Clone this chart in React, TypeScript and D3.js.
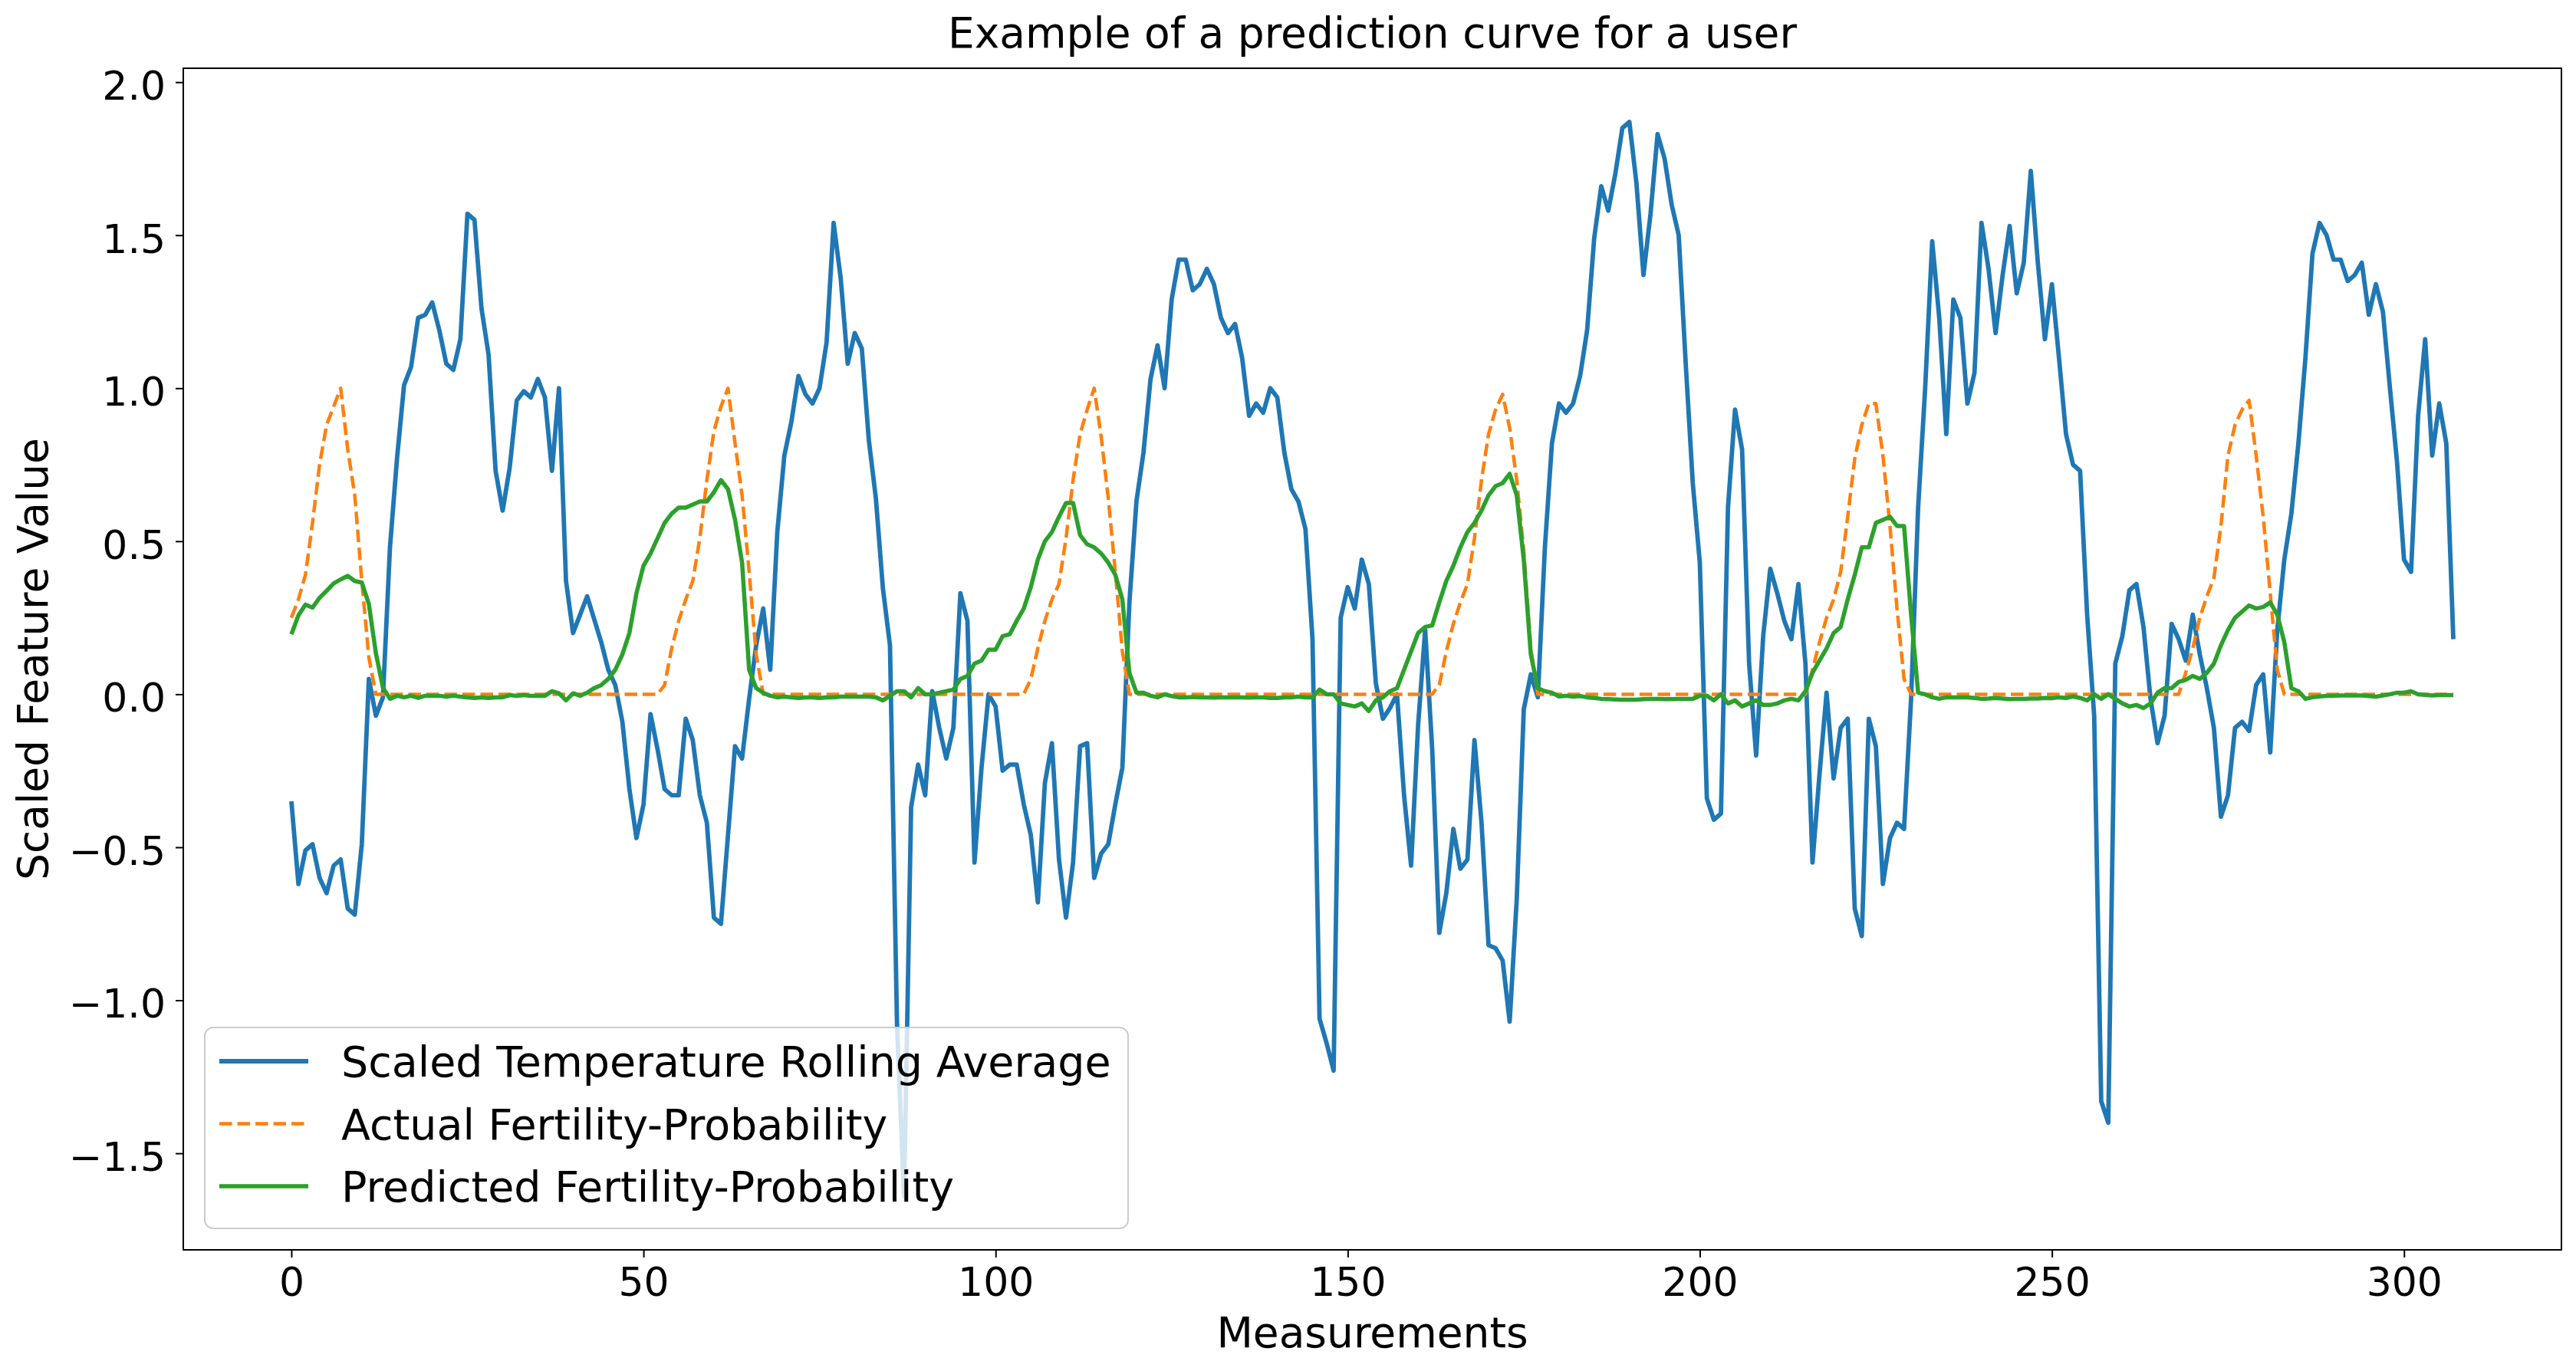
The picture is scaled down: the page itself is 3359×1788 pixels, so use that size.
import { useEffect, useRef } from "react"
import * as d3 from "d3"

const WIDTH = 3359
const HEIGHT = 1788

// scaled temperature rolling average, one value per measurement (0..307)
const temperatureRolling = [
    -0.35, -0.62, -0.51, -0.49, -0.60, -0.65, -0.56, -0.54, -0.70, -0.72,
    -0.49, 0.05, -0.07, -0.01, 0.48, 0.77, 1.01, 1.07, 1.23, 1.24,
    1.28, 1.19, 1.08, 1.06, 1.16, 1.57, 1.55, 1.26, 1.11, 0.73,
    0.60, 0.74, 0.96, 0.99, 0.97, 1.03, 0.97, 0.73, 1.00, 0.37,
    0.20, 0.26, 0.32, 0.245, 0.17, 0.08, 0.03, -0.09, -0.31, -0.47,
    -0.36, -0.065, -0.18, -0.31, -0.33, -0.33, -0.08, -0.15, -0.33, -0.42,
    -0.73, -0.75, -0.46, -0.17, -0.21, -0.015, 0.16, 0.28, 0.08, 0.53,
    0.78, 0.89, 1.04, 0.98, 0.95, 1.00, 1.15, 1.54, 1.36, 1.08,
    1.18, 1.13, 0.83, 0.64, 0.345, 0.16, -1.08, -1.64, -0.37, -0.23,
    -0.33, 0.01, -0.11, -0.21, -0.11, 0.33, 0.24, -0.55, -0.24, 0.0,
    -0.04, -0.25, -0.23, -0.23, -0.36, -0.46, -0.68, -0.29, -0.16, -0.54,
    -0.73, -0.55, -0.17, -0.16, -0.60, -0.52, -0.49, -0.36, -0.24, 0.30,
    0.63, 0.79, 1.03, 1.14, 1.00, 1.29, 1.42, 1.42, 1.32, 1.34,
    1.39, 1.34, 1.23, 1.18, 1.21, 1.10, 0.91, 0.95, 0.92, 1.00,
    0.97, 0.79, 0.67, 0.63, 0.54, 0.18, -1.06, -1.14, -1.23, 0.25,
    0.35, 0.28, 0.44, 0.36, 0.035, -0.08, -0.045, 0.0, -0.33, -0.56,
    -0.10, 0.21, -0.18, -0.78, -0.65, -0.44, -0.57, -0.54, -0.15, -0.42,
    -0.82, -0.83, -0.87, -1.07, -0.67, -0.05, 0.065, -0.01, 0.48, 0.82,
    0.95, 0.92, 0.95, 1.04, 1.19, 1.49, 1.66, 1.58, 1.70, 1.85,
    1.87, 1.67, 1.37, 1.57, 1.83, 1.75, 1.60, 1.50, 1.08, 0.69,
    0.43, -0.34, -0.41, -0.39, 0.61, 0.93, 0.80, 0.10, -0.20, 0.19,
    0.41, 0.33, 0.24, 0.18, 0.36, 0.10, -0.55, -0.26, 0.005, -0.275,
    -0.11, -0.08, -0.70, -0.79, -0.08, -0.17, -0.62, -0.47, -0.42, -0.44,
    -0.015, 0.61, 1.00, 1.48, 1.23, 0.85, 1.29, 1.23, 0.95, 1.05,
    1.54, 1.39, 1.18, 1.37, 1.53, 1.31, 1.41, 1.71, 1.41, 1.16,
    1.34, 1.10, 0.85, 0.75, 0.73, 0.26, -0.07, -1.33, -1.40, 0.10,
    0.19, 0.34, 0.36, 0.22, -0.015, -0.16, -0.07, 0.23, 0.18, 0.11,
    0.26, 0.13, 0.02, -0.11, -0.40, -0.33, -0.11, -0.09, -0.12, 0.03,
    0.065, -0.19, 0.21, 0.44, 0.59, 0.82, 1.10, 1.44, 1.54, 1.50,
    1.42, 1.42, 1.35, 1.37, 1.41, 1.24, 1.34, 1.25, 1.00, 0.76,
    0.44, 0.40, 0.91, 1.16, 0.78, 0.95, 0.82, 0.18,
]

// actual fertility probability (dashed)
const actualFertility = [
    0.25, 0.31, 0.39, 0.56, 0.75, 0.88, 0.94, 1.00, 0.80, 0.65,
    0.37, 0.12, 0, 0, 0, 0, 0, 0, 0, 0,
    0, 0, 0, 0, 0, 0, 0, 0, 0, 0,
    0, 0, 0, 0, 0, 0, 0, 0, 0, 0,
    0, 0, 0, 0, 0, 0, 0, 0, 0, 0,
    0, 0, 0, 0.03, 0.15, 0.24, 0.31, 0.37, 0.51, 0.70,
    0.86, 0.94, 1.00, 0.82, 0.65, 0.40, 0.13, 0, 0, 0,
    0, 0, 0, 0, 0, 0, 0, 0, 0, 0,
    0, 0, 0, 0, 0, 0, 0, 0, 0, 0,
    0, 0, 0, 0, 0, 0, 0, 0, 0, 0,
    0, 0, 0, 0, 0, 0.05, 0.15, 0.24, 0.31, 0.36,
    0.51, 0.70, 0.85, 0.93, 1.00, 0.84, 0.64, 0.40, 0.14, 0,
    0, 0, 0, 0, 0, 0, 0, 0, 0, 0,
    0, 0, 0, 0, 0, 0, 0, 0, 0, 0,
    0, 0, 0, 0, 0, 0, 0, 0, 0, 0,
    0, 0, 0, 0, 0, 0, 0, 0, 0, 0,
    0, 0, 0, 0.03, 0.14, 0.23, 0.30, 0.36, 0.51, 0.70,
    0.85, 0.93, 0.98, 0.87, 0.70, 0.47, 0.15, 0, 0, 0,
    0, 0, 0, 0, 0, 0, 0, 0, 0, 0,
    0, 0, 0, 0, 0, 0, 0, 0, 0, 0,
    0, 0, 0, 0, 0, 0, 0, 0, 0, 0,
    0, 0, 0, 0, 0, 0, 0.08, 0.17, 0.25, 0.31,
    0.40, 0.58, 0.77, 0.88, 0.95, 0.95, 0.78, 0.55, 0.28, 0.05,
    0, 0, 0, 0, 0, 0, 0, 0, 0, 0,
    0, 0, 0, 0, 0, 0, 0, 0, 0, 0,
    0, 0, 0, 0, 0, 0, 0, 0, 0, 0,
    0, 0, 0, 0, 0, 0, 0, 0, 0, 0.07,
    0.15, 0.25, 0.32, 0.38, 0.55, 0.78, 0.88, 0.93, 0.96, 0.78,
    0.58, 0.33, 0.08, 0, 0, 0, 0, 0, 0, 0,
    0, 0, 0, 0, 0, 0, 0, 0, 0, 0,
    0, 0, 0, 0, 0, 0, 0, 0,
]

// predicted fertility probability
const predictedFertility = [
    0.196, 0.258, 0.293, 0.283, 0.315, 0.338, 0.362, 0.375, 0.387, 0.370,
    0.365, 0.295, 0.134, 0.022, -0.015, -0.005, -0.01, -0.005, -0.012, -0.005,
    -0.005, -0.005, -0.008, -0.005, -0.008, -0.01, -0.012, -0.01, -0.012, -0.01,
    -0.01, -0.003, -0.005, -0.003, -0.005, -0.005, -0.005, 0.01, 0.003, -0.02,
    0.003, -0.005, 0.005, 0.02, 0.03, 0.05, 0.08, 0.13, 0.20, 0.33,
    0.42, 0.46, 0.51, 0.56, 0.59, 0.61, 0.61, 0.62, 0.63, 0.63,
    0.66, 0.70, 0.67, 0.57, 0.43, 0.08, 0.02, 0.005, -0.005, -0.01,
    -0.008, -0.01, -0.012, -0.01, -0.01, -0.012, -0.01, -0.01, -0.008, -0.008,
    -0.008, -0.008, -0.008, -0.01, -0.02, -0.005, 0.01, 0.01, -0.01, 0.02,
    0.0, 0.0, 0.005, 0.01, 0.015, 0.05, 0.06, 0.10, 0.11, 0.146,
    0.146, 0.19, 0.196, 0.24, 0.28, 0.35, 0.44, 0.50, 0.53, 0.58,
    0.625, 0.625, 0.52, 0.49, 0.48, 0.46, 0.43, 0.39, 0.31, 0.07,
    0.005, 0.005, -0.005, -0.01, 0.0, -0.006, -0.01, -0.01, -0.009, -0.01,
    -0.01, -0.011, -0.01, -0.01, -0.01, -0.01, -0.011, -0.01, -0.01, -0.012,
    -0.012, -0.01, -0.01, -0.008, -0.01, -0.01, 0.015, 0.0, 0.0, -0.03,
    -0.035, -0.04, -0.03, -0.055, -0.02, -0.01, 0.01, 0.02, 0.08, 0.14,
    0.20, 0.22, 0.225, 0.30, 0.37, 0.42, 0.48, 0.53, 0.56, 0.60,
    0.65, 0.68, 0.69, 0.72, 0.65, 0.44, 0.13, 0.02, 0.01, 0.005,
    -0.007, -0.005, -0.008, -0.006, -0.01, -0.012, -0.015, -0.016, -0.017, -0.018,
    -0.018, -0.018, -0.016, -0.015, -0.015, -0.016, -0.016, -0.015, -0.015, -0.015,
    -0.005, -0.005, -0.02, 0.0, -0.03, -0.02, -0.04, -0.03, -0.02, -0.035,
    -0.035, -0.03, -0.02, -0.015, -0.02, 0.01, 0.07, 0.11, 0.15, 0.20,
    0.22, 0.31, 0.39, 0.48, 0.48, 0.56, 0.57, 0.58, 0.55, 0.55,
    0.26, 0.005, 0.0, -0.01, -0.015, -0.01, -0.01, -0.01, -0.01, -0.012,
    -0.015, -0.014, -0.012, -0.014, -0.016, -0.015, -0.015, -0.014, -0.014, -0.012,
    -0.013, -0.01, -0.012, -0.007, -0.012, -0.02, 0.0, -0.015, 0.0, -0.015,
    -0.03, -0.04, -0.035, -0.045, -0.03, 0.005, 0.02, 0.02, 0.04, 0.047,
    0.06, 0.05, 0.07, 0.10, 0.16, 0.21, 0.25, 0.27, 0.29, 0.28,
    0.285, 0.30, 0.26, 0.17, 0.02, 0.01, -0.015, -0.01, -0.007, -0.005,
    -0.005, -0.004, -0.004, -0.004, -0.004, -0.006, -0.008, -0.004, 0.0, 0.005,
    0.005, 0.01, 0.0, -0.002, -0.004, -0.003, -0.003, -0.003,
]

const xTickValues = [0, 50, 100, 150, 200, 250, 300]
const yTickValues = [-1.5, -1.0, -0.5, 0.0, 0.5, 1.0, 1.5, 2.0]

const seriesNames = [
    "Scaled Temperature Rolling Average",
    "Actual Fertility-Probability",
    "Predicted Fertility-Probability",
]
const seriesColors = ["#1f77b4", "#ff7f0e", "#2ca02c"]
const seriesWidths = [5.8, 4.5, 5.5]
const DASH = "16.5 7"

const FONT = "'DejaVu Sans', sans-serif"

export default function App() {
    const svgRef = useRef<SVGSVGElement | null>(null)

    useEffect(() => {
        if (!svgRef.current) return

        const margin = { top: 89, right: 19, bottom: 158, left: 239 }
        const innerWidth = WIDTH - margin.left - margin.right
        const innerHeight = HEIGHT - margin.top - margin.bottom

        const svg = d3.select(svgRef.current)
        svg.selectAll("*").remove()

        svg.append("rect").attr("width", WIDTH).attr("height", HEIGHT).attr("fill", "#fff")

        const g = svg.append("g").attr("transform", `translate(${margin.left},${margin.top})`)

        // matplotlib style 5% margins
        const n = temperatureRolling.length
        const xPad = (n - 1) * 0.05
        const xScale = d3.scaleLinear().domain([-xPad, n - 1 + xPad]).range([0, innerWidth])

        const allY = [...temperatureRolling, ...actualFertility, ...predictedFertility]
        const [yMin, yMax] = d3.extent(allY) as [number, number]
        const yPad = (yMax - yMin) * 0.05
        const yScale = d3.scaleLinear().domain([yMin - yPad, yMax + yPad]).range([innerHeight, 0])

        const lineGen = d3
            .line<number>()
            .x((_, i) => xScale(i))
            .y((d) => yScale(d))

        const series = [temperatureRolling, actualFertility, predictedFertility]
        series.forEach((values, i) => {
            g.append("path")
                .datum(values)
                .attr("fill", "none")
                .attr("stroke", seriesColors[i])
                .attr("stroke-width", seriesWidths[i])
                .attr("stroke-dasharray", i === 1 ? DASH : null)
                .attr("stroke-linejoin", "round")
                .attr("d", lineGen)
        })

        // axes
        const xAxisG = g
            .append("g")
            .attr("transform", `translate(0,${innerHeight})`)
            .call(
                d3.axisBottom(xScale)
                    .tickValues(xTickValues)
                    .tickFormat(d3.format("d"))
                    .tickSize(10)
                    .tickPadding(13)
            )
        const yAxisG = g
            .append("g")
            .call(
                d3.axisLeft(yScale)
                    .tickValues(yTickValues)
                    .tickFormat(d3.format(".1f"))
                    .tickSize(10)
                    .tickPadding(13)
            )

        for (const axisG of [xAxisG, yAxisG]) {
            axisG.select(".domain").remove()
            axisG.selectAll(".tick line").attr("stroke", "#000").attr("stroke-width", 2)
            axisG.selectAll(".tick text")
                .attr("fill", "#000")
                .attr("font-family", FONT)
                .attr("font-size", 52)
        }
        yAxisG.selectAll(".tick text").attr("dy", "0.43em")

        // spines
        g.append("rect")
            .attr("width", innerWidth)
            .attr("height", innerHeight)
            .attr("fill", "none")
            .attr("stroke", "#000")
            .attr("stroke-width", 2)

        // Labels
        svg.append("text")
            .attr("x", margin.left + innerWidth / 2)
            .attr("y", 62)
            .attr("text-anchor", "middle")
            .attr("font-family", FONT)
            .attr("font-size", 55)
            .text("Example of a prediction curve for a user")

        svg.append("text")
            .attr("x", margin.left + innerWidth / 2)
            .attr("y", 1757)
            .attr("text-anchor", "middle")
            .attr("font-family", FONT)
            .attr("font-size", 55)
            .text("Measurements")

        svg.append("text")
            .attr("transform", `translate(62,${margin.top + innerHeight / 2}) rotate(-90)`)
            .attr("text-anchor", "middle")
            .attr("font-family", FONT)
            .attr("font-size", 55)
            .text("Scaled Feature Value")

        // legend, lower left
        const legendW = 1204
        const legendH = 262
        const legendX = margin.left + 28
        const legendY = margin.top + innerHeight - 28 - legendH
        const legend = svg.append("g").attr("transform", `translate(${legendX},${legendY})`)

        legend.append("rect")
            .attr("width", legendW)
            .attr("height", legendH)
            .attr("rx", 11)
            .attr("fill", "#fff")
            .attr("fill-opacity", 0.8)
            .attr("stroke", "#cccccc")
            .attr("stroke-width", 2)

        const rows = legend
            .selectAll("g.entry")
            .data(seriesNames)
            .enter()
            .append("g")
            .attr("class", "entry")
            .attr("transform", (_, i) => `translate(0,${44 + i * 81.5})`)

        rows.append("line")
            .attr("x1", 19)
            .attr("x2", 135)
            .attr("stroke", (_, i) => seriesColors[i])
            .attr("stroke-width", (_, i) => seriesWidths[i])
            .attr("stroke-dasharray", (_, i) => (i === 1 ? DASH : null))

        rows.append("text")
            .attr("x", 178)
            .attr("y", 20)
            .attr("font-family", FONT)
            .attr("font-size", 55.5)
            .text((d) => d)
    }, [])

    return (
        <div style={{ position: "absolute", left: 0, top: 0 }}>
            <svg ref={svgRef} width={WIDTH} height={HEIGHT} style={{ display: "block" }} />
        </div>
    )
}
